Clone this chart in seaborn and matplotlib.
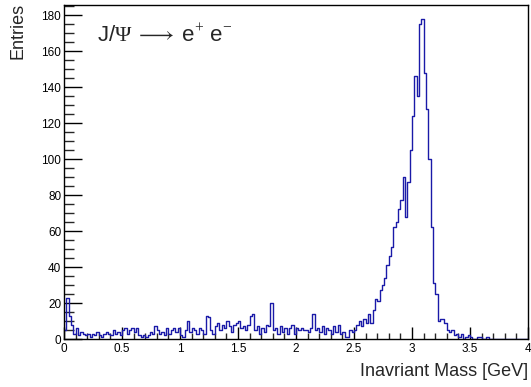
import numpy as np
import pandas as pd
import matplotlib
matplotlib.use("Agg")
import matplotlib.pyplot as plt
import seaborn as sns
from matplotlib.ticker import MultipleLocator

# J/psi -> e+ e- invariant mass, 200 bins of 0.02 GeV from 0 to 4 GeV
n_bins = 200
mass_range = (0, 4)
counts = [
    # 0.0 - 0.2
    5, 23, 13, 8, 3, 6, 2, 4, 3, 2,
    # 0.2 - 0.5
    3, 1, 3, 2, 4, 2, 1, 3, 4, 3, 2, 5, 3, 4, 2,
    # 0.5 - 0.7
    5, 6, 3, 5, 6, 4, 6, 2, 1, 2,
    # 0.7 - 1.0
    1, 2, 4, 3, 7, 5, 3, 4, 2, 6, 3, 5, 6, 4, 6,
    # 1.0 - 1.3
    2, 1, 5, 10, 4, 6, 5, 3, 6, 5, 3, 13, 12, 5, 3,
    # 1.3 - 1.6
    7, 9, 5, 8, 6, 10, 7, 4, 8, 9, 10, 6, 7, 5, 8,
    # 1.6 - 1.9
    13, 14, 5, 7, 3, 6, 4, 8, 7, 20, 5, 6, 3, 7, 4,
    # 1.9 - 2.2
    6, 3, 6, 8, 3, 6, 5, 6, 5, 5, 4, 6, 14, 5, 6,
    # 2.2 - 2.5
    4, 7, 3, 6, 5, 3, 7, 4, 8, 3, 4, 1, 1, 5, 4,
    # 2.5 - 2.94
    5, 8, 10, 7, 11, 9, 14, 9, 16, 22, 21, 27, 30, 34, 41, 46, 51, 62, 65, 72, 77, 90,
    # 2.94 - 3.34
    68, 87, 105, 124, 146, 135, 175, 178, 148, 128, 100, 62, 31, 25, 10, 11, 11, 9, 5, 4,
    # 3.34 - 4.0
    5, 2, 3, 1, 3, 0, 1, 2, 1, 0, 0, 1, 1, 0, 0, 1, 0,
    0, 0, 0, 0, 0, 0, 0, 0, 0, 0, 0, 0, 0, 0, 0, 0,
]
x_ticks = [0, 0.5, 1, 1.5, 2, 2.5, 3, 3.5, 4]
x_tick_labels = ["0", "0.5", "1", "1.5", "2", "2.5", "3", "3.5", "4"]
y_ticks = [0, 20, 40, 60, 80, 100, 120, 140, 160, 180]

bin_edges = np.linspace(mass_range[0], mass_range[1], n_bins + 1)
bin_centers = 0.5 * (bin_edges[:-1] + bin_edges[1:])

df = pd.DataFrame({"mass": bin_centers, "entries": counts})

sns.set_style("white")
plt.rcParams['font.family'] = ['Liberation Sans', 'DejaVu Sans']
plt.rcParams['mathtext.fontset'] = 'custom'
plt.rcParams['mathtext.rm'] = 'Liberation Serif'

W, H = 531, 387
fig = plt.figure(figsize=(W / 100, H / 100), dpi=100)
ax = fig.add_axes([64 / W, 1 - 339 / H, (528 - 64) / W, (339 - 5) / H])

sns.histplot(data=df, x="mass", weights="entries", bins=n_bins, binrange=mass_range,
             element="step", fill=False, color="#1a1aa8", linewidth=1.0, ax=ax)

ax.set_xlim(0, 4)
ax.set_ylim(0, 185.6)
ax.set_xlabel("")
ax.set_ylabel("")

ax.set_xticks(x_ticks, x_tick_labels)
ax.set_yticks(y_ticks, [str(v) for v in y_ticks])
ax.xaxis.set_minor_locator(MultipleLocator(0.1))
ax.yaxis.set_minor_locator(MultipleLocator(5))
ax.tick_params(axis="both", which="major", direction="in", length=9, width=1,
               labelsize=8.5, colors="black", bottom=True, left=True)
ax.tick_params(axis="both", which="minor", direction="in", length=4.5, width=1,
               bottom=True, left=True)
ax.tick_params(axis="y", which="major", length=13)
ax.tick_params(axis="y", which="minor", length=7)
ax.tick_params(axis="x", which="major", pad=3)
ax.tick_params(axis="y", which="major", pad=2)

for sp in ax.spines.values():
    sp.set_color("black")
    sp.set_linewidth(1)

fig.text(18 / W, 1 - 3 / H, "Entries", rotation=90, ha="center", va="top", fontsize=13)
fig.text(528 / W, 1 - 372 / H, "Inavriant Mass [GeV]", ha="right", va="center", fontsize=13)
fig.text(97 / W, 1 - 41 / H, r"J/$\Psi\,\longrightarrow\,$e$^{+}$ e$^{-}$",
         ha="left", va="baseline", fontsize=16)

fig.savefig("out.png", dpi=100)
